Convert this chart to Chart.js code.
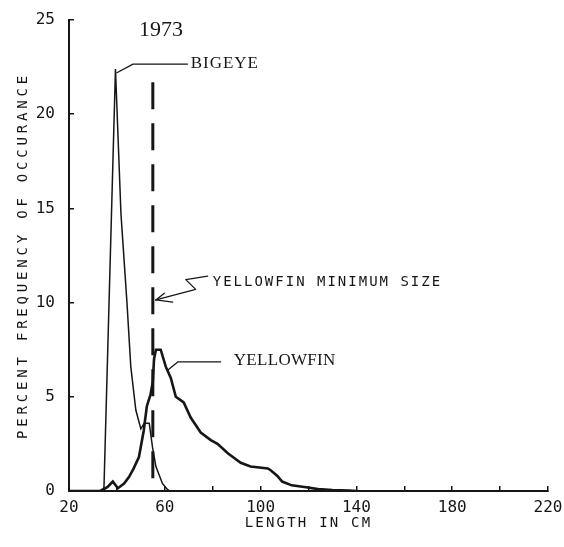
<!DOCTYPE html>
<html>
<head>
<meta charset="utf-8">
<title>1973 bigeye / yellowfin length frequency</title>
<script src="https://cdn.jsdelivr.net/npm/chart.js@4.4.1/dist/chart.umd.min.js"></script>
<style>
  html, body { margin: 0; padding: 0; background: #fff; }
  #wrap { width: 564px; height: 547px; position: relative; }
</style>
</head>
<body>
<div id="wrap"><canvas id="lengthChart"></canvas></div>
<script>
// values: length in cm, percent frequency of occurance
const bigeyeLength = [20, 34, 34.6, 39.4, 41.7, 44.2, 45.8, 47.9, 50, 51.4, 53.5, 54.9, 56.3, 59, 61, 62];
const bigeyePct    = [0, 0, 0.2, 22.4, 14.7, 10, 6.6, 4.3, 3.3, 3.6, 3.6, 2.3, 1.3, 0.4, 0.1, 0];

const yellowfinLength = [20, 33, 36, 38.3, 40.4, 43, 45.1, 47, 49.2, 51.2, 52.5, 54, 55, 55.5, 56.3, 58.3, 60.4, 62.5, 64.6, 67.9, 70.8, 75, 79.2, 82, 86.3, 91.7, 95.8, 103, 104.2, 107, 109, 113, 119, 124, 130, 137, 140];
const yellowfinPct    = [0, 0, 0.2, 0.5, 0.15, 0.4, 0.75, 1.2, 1.8, 3.2, 4.5, 5.1, 5.8, 7.0, 7.5, 7.5, 6.6, 6.0, 5.0, 4.7, 3.9, 3.1, 2.7, 2.5, 2.0, 1.5, 1.3, 1.2, 1.1, 0.8, 0.5, 0.3, 0.2, 0.1, 0.05, 0.03, 0];

// yellowfin minimum size marker
const minSizeLength = [55, 55];
const minSizePct    = [21.7, 0];

const xTicks = [20, 60, 100, 140, 180, 220];   // labelled ticks, unlabelled every 20
const yTicks = [0, 5, 10, 15, 20, 25];

const INK = '#161616';

function toPoints(xs, ys) {
    return xs.map((x, i) => ({ x: x, y: ys[i] }));
}

// text notes and leader lines, anchored in data units
const notes = [
    { text: '1973', at: [49.2, 24.47], font: '22px "Liberation Serif"', spacing: 0 },
    { text: 'BIGEYE', at: [70.8, 22.7], font: '17px "Liberation Serif"', spacing: 1,
      path: [[40, 22.2], [46.7, 22.66], [69.5, 22.66]] },
    { text: 'YELLOWFIN', at: [88.8, 6.95], font: '17px "Liberation Serif"', spacing: 0.3,
      path: [[61.3, 6.42], [65.4, 6.85], [83.3, 6.85]] },
    { text: 'YELLOWFIN MINIMUM SIZE', at: [80, 11.1], font: '14px "DejaVu Sans Mono"', spacing: 2,
      path: [[77.9, 11.4], [68.75, 11.22], [72.9, 10.7], [56.3, 10.14]],
      barbs: [[59.8, 10.5], [63.3, 10.03]] }
];

const notesPlugin = {
    id: 'figureNotes',
    afterDatasetsDraw(chart) {
        const ctx = chart.ctx, sx = chart.scales.x, sy = chart.scales.y;
        const P = p => [sx.getPixelForValue(p[0]), sy.getPixelForValue(p[1])];
        ctx.save();
        ctx.fillStyle = INK; ctx.strokeStyle = INK; ctx.lineWidth = 1.3;
        ctx.lineJoin = 'round'; ctx.lineCap = 'round';
        notes.forEach(n => {
            if (n.path) {
                ctx.beginPath();
                n.path.forEach((p, i) => { const q = P(p); i ? ctx.lineTo(q[0], q[1]) : ctx.moveTo(q[0], q[1]); });
                ctx.stroke();
            }
            if (n.barbs) {
                const tip = P(n.path[n.path.length - 1]);
                n.barbs.forEach(b => { const q = P(b); ctx.beginPath(); ctx.moveTo(tip[0], tip[1]); ctx.lineTo(q[0], q[1]); ctx.stroke(); });
            }
            const a = P(n.at);
            ctx.font = n.font;
            ctx.letterSpacing = n.spacing + 'px';
            ctx.textAlign = 'left'; ctx.textBaseline = 'middle';
            ctx.fillText(n.text, a[0], a[1]);
        });

        // axis titles (letter spaced like the printer lettering)
        const area = chart.chartArea;
        ctx.font = '14px "DejaVu Sans Mono"';
        ctx.textAlign = 'center'; ctx.textBaseline = 'middle';
        ctx.letterSpacing = '2.2px';
        ctx.fillText('LENGTH IN CM', (area.left + area.right) / 2, area.bottom + 32);
        ctx.translate(area.left - 46, (area.top + area.bottom) / 2);
        ctx.rotate(-Math.PI / 2);
        ctx.letterSpacing = '3.8px';
        ctx.fillText('PERCENT FREQUENCY OF OCCURANCE', 0, 0);
        ctx.restore();
    }
};

function createLengthChart(canvasId) {
    const ctx = document.getElementById(canvasId);
    if (!ctx) { console.error(`Chart Error: Canvas element #${canvasId} not found.`); return; }

    const chartData = {
        datasets: [
            { label: 'BIGEYE', data: toPoints(bigeyeLength, bigeyePct),
              borderColor: INK, borderWidth: 1.5, pointRadius: 0, tension: 0, fill: false },
            { label: 'YELLOWFIN', data: toPoints(yellowfinLength, yellowfinPct),
              borderColor: INK, borderWidth: 2.6, pointRadius: 0, tension: 0, fill: false },
            { label: 'YELLOWFIN MINIMUM SIZE', data: toPoints(minSizeLength, minSizePct),
              borderColor: INK, borderWidth: 3, borderDash: [27, 14], borderCapStyle: 'butt',
              pointRadius: 0, fill: false }
        ]
    };
    const tickFont = { family: '"DejaVu Sans Mono", monospace', size: 16 };
    // fixed axis boxes so the plot area sits where the printed one does
    const fixX = s => { s.height = 56; s.paddingLeft = 0; s.paddingRight = 0; };
    const fixY = s => { s.width = 69; s.paddingTop = 0; s.paddingBottom = 0; };
    const chartOptions = {
        responsive: true, maintainAspectRatio: false, animation: false,
        layout: { padding: { top: 20, right: 16, left: 0, bottom: 0 } },
        scales: {
            x: {
                type: 'linear', min: 20, max: 220,
                afterFit: fixX,
                ticks: { stepSize: 20, autoSkip: false, maxRotation: 0, color: INK, font: tickFont, padding: 12,
                         callback: v => xTicks.includes(v) ? String(v) : '' },
                grid: { drawOnChartArea: false, tickLength: -5, color: INK, lineWidth: 1.5 },
                border: { color: INK, width: 2 }
            },
            y: {
                min: 0, max: 25,
                afterFit: fixY,
                ticks: { stepSize: 5, color: INK, font: tickFont, padding: 19,
                         callback: v => yTicks.includes(v) ? String(v) : '' },
                grid: { drawOnChartArea: false, tickLength: -5, color: INK, lineWidth: 1.5 },
                border: { color: INK, width: 2 }
            }
        },
        plugins: { legend: { display: false }, tooltip: { enabled: false }, title: { display: false } }
    };

    try { new Chart(ctx, { type: 'line', data: chartData, options: chartOptions, plugins: [notesPlugin] }); }
    catch (error) { console.error(`Error initializing chart #${canvasId}:`, error); }
}

createLengthChart('lengthChart');
</script>
</body>
</html>
